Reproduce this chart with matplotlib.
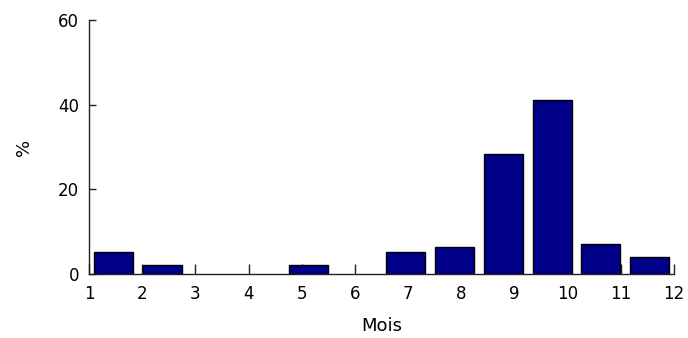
import numpy as np
import matplotlib
matplotlib.use("Agg")
import matplotlib.pyplot as plt

# monthly distribution (%), 12 histogram bins spanning months 1..12
months = list(range(1, 13))
percent = [5.3, 2.2, 0, 0, 2.2, 0, 5.3, 6.3, 28.4, 41.0, 7.2, 4.0]
y_ticks = [0, 20, 40, 60]

n_bins = len(percent)
bin_w = (months[-1] - months[0]) / n_bins
centers = months[0] + (np.arange(n_bins) + 0.5) * bin_w

fig = plt.figure(figsize=(6.88, 3.38), dpi=100)
ax = fig.add_axes([0.1294, 0.1893, 0.9797 - 0.1294, 0.9408 - 0.1893])

heights = np.array(percent, dtype=float)
mask = heights > 0
ax.bar(centers[mask], heights[mask], width=0.8 * bin_w,
       color="#000088", edgecolor="black", linewidth=1.0, zorder=2)

ax.set_xlim(months[0], months[-1])
ax.set_ylim(0, 60)
ax.set_xticks(months)
ax.set_yticks(y_ticks)

for s in ["top", "right"]:
    ax.spines[s].set_visible(False)
for s in ["left", "bottom"]:
    ax.spines[s].set_color("#222222")
    ax.spines[s].set_linewidth(1.0)
    ax.spines[s].set_zorder(3)

ax.tick_params(axis="x", direction="in", length=7, width=1, color="#222222",
               labelsize=12, pad=8)
ax.tick_params(axis="y", direction="in", length=5, width=1, color="#222222",
               labelsize=12, pad=7)

ax.set_xlabel("Mois", fontsize=13, labelpad=10)
ax.set_ylabel("%", fontsize=13, labelpad=18)

fig.savefig("out.png", dpi=100)
